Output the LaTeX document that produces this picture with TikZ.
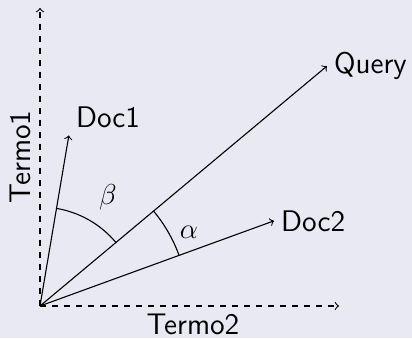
\documentclass[tikz,border=0pt]{standalone}
\usepackage{amsmath, amssymb}
\usepackage{tikz}
\usetikzlibrary{calc,arrows.meta,positioning}
\definecolor{bgpanel}{RGB}{233,233,243}

\begin{document}
\begin{tikzpicture}[>=to, x=0.5pt, y=0.5pt, line width=0.55pt,
  font=\sffamily\fontsize{14.9}{17}\selectfont]
  % Background
  \fill[bgpanel] (-40,-32) rectangle (372,306);
  \useasboundingbox (-40,-32) rectangle (372,306);

  % Axes
  \coordinate (O) at (0,0);
  \coordinate (t1) at (0,298);
  \coordinate (t2) at (299,0);
  \draw[dashed, ->] (O) -- (t1);
  \draw[dashed, ->] (O) -- (t2);
  \node[rotate=90] (termo1) at (-20,149) {Termo1};
  \node (termo2) at (153,-18.5) {Termo2};

  % Vectors
  \coordinate (d1) at (80.4:173);
  \coordinate (q) at (39.9:374);
  \coordinate (d2) at (20:249);
  \draw[->] (O) -- (d1);
  \draw[->] (O) -- (q);
  \draw[->] (O) -- (d2);
  \node[anchor=south west] (doc1) at (d1) {Doc1};
  \node[anchor=west] (query) at (q) {Query};
  \node[anchor=west] (doc2) at (d2) {Doc2};

  % Angles
  \draw (39.9:99) arc[start angle=39.9, end angle=80.4, radius=99];
  \node (beta) at (68,109) {$\beta$};
  \draw (20:148) arc[start angle=20, end angle=39.9, radius=148];
  \node (alpha) at (149,74) {$\alpha$};

\end{tikzpicture}
\end{document}
